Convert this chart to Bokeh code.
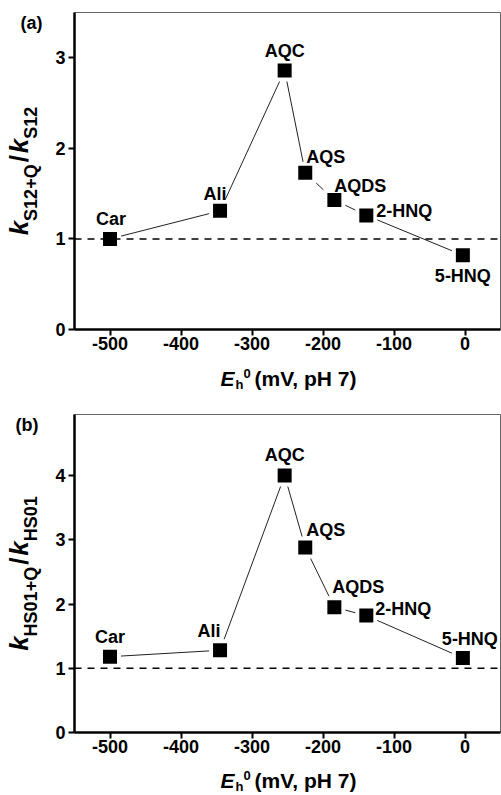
import math
from bokeh.plotting import figure
from bokeh.models import Range1d, FixedTicker, Span, ColumnDataSource, Spacer
from bokeh.layouts import column, row
from bokeh.embed import file_html
from bokeh.resources import INLINE
from bokeh.core.properties import value

# ---------------- data ----------------
names = ["Car", "Ali", "AQC", "AQS", "AQDS", "2-HNQ", "5-HNQ"]
eh0 = [-500, -345, -254, -225, -184, -139, -3]          # mV, pH 7
ratio_s12 = [1.00, 1.31, 2.86, 1.73, 1.43, 1.26, 0.82]   # k(S12+Q)/k(S12)
ratio_hs01 = [1.18, 1.28, 4.00, 2.88, 1.95, 1.82, 1.16]  # k(HS01+Q)/k(HS01)
x_ticks = [-500, -400, -300, -200, -100, 0]
y_ticks_a = [0, 1, 2, 3]
y_ticks_b = [0, 1, 2, 3, 4]

# ---------------- label placement (styling, px; dy = baseline above point) ----
align_a = ["center", "center", "center", "left", "left", "left", "center"]
dx_a = [1, -5, 0, 1, 0, 10, 0]
dy_a = [14, 11, 13, 10, 8, -2, -27]
align_b = ["center", "center", "center", "left", "left", "left", "center"]
dx_b = [0, -11, 0, 1, -2, 9, 7]
dy_b = [13, 13, 14, 11, 14, 0, 13]

FONT = "Liberation Sans"
MID = 0.35   # em-box middle above the alphabetic baseline
W = {"k": .556, "S": .667, "1": .556, "2": .556, "+": .584, "Q": .778, "/": .278,
     "H": .722, "0": .556, "h": .611, "E": .667, " ": .278, "(": .333, ")": .333,
     "m": .889, "V": .667, ",": .278, "p": .611, "7": .556}

TOTAL_W = 501
LEFT_W = 52        # strip holding the rotated y label
AXIS_L = 22        # left border of the main figures (y tick labels)
AXIS_B = 32        # bottom border of the main figures (x tick labels)
FRAME_W = TOTAL_W - LEFT_W - AXIS_L - 1


def tw(s, size):
    return sum(W.get(c, .6) for c in s) * size


def strip(w, h, xr, yr, bl=0, br=0, bt=0, bb=0):
    s = figure(width=w, height=h, x_range=Range1d(0, xr), y_range=Range1d(0, yr),
               output_backend="svg", toolbar_location=None, title=None,
               x_axis_location=None, y_axis_location=None,
               min_border=0, min_border_left=bl, min_border_right=br,
               min_border_top=bt, min_border_bottom=bb)
    s.grid.visible = False
    s.outline_line_color = None
    s.background_fill_color = "white"
    s.border_fill_color = "white"
    return s


def put(s, x, y, t, size, style, align="left"):
    """horizontal text; (x, y) = start / alphabetic baseline in frame pixels"""
    s.text([x], [y + MID * size], text=[t], text_align=align,
           text_baseline="middle", text_font=value(FONT),
           text_font_style=style, text_font_size=f"{size}px",
           text_color="black")


def put_vertical(s, xbase, ystart, t, size, style):
    """text rotated 90 deg; baseline at x = xbase, starting at y = ystart"""
    w = tw(t, size)
    s.text([xbase - MID * size], [ystart + w / 2], text=[t], angle=math.pi / 2,
           text_align="center", text_baseline="middle", text_font=value(FONT),
           text_font_style=style, text_font_size=f"{size}px",
           text_color="black")


def make_panel(yvals, yticks, ymax, frame_h, top_border, xl_h, xl_base,
               tag, tag_x, tag_drop, sub_num, sub_den, align, dx, dy):
    height = top_border + frame_h + AXIS_B
    p = figure(width=TOTAL_W - LEFT_W, height=height, x_range=Range1d(-550, 50),
               y_range=Range1d(0, ymax), output_backend="svg", title=None,
               toolbar_location=None, min_border_left=AXIS_L, min_border_right=1,
               min_border_top=top_border, min_border_bottom=AXIS_B)
    p.xgrid.visible = False
    p.ygrid.visible = False
    p.outline_line_color = "#666666"
    p.outline_line_width = 1
    p.background_fill_color = "white"
    p.border_fill_color = "white"

    for ax in (p.xaxis[0], p.yaxis[0]):
        ax.axis_line_width = 2.5
        ax.axis_line_color = "black"
        ax.major_tick_line_width = 2
        ax.major_tick_line_color = "black"
        ax.major_tick_in = 0
        ax.major_tick_out = 6
        ax.minor_tick_line_color = None
        ax.major_label_text_font = FONT
        ax.major_label_text_font_style = "bold"
        ax.major_label_text_font_size = "18px"
        ax.major_label_text_color = "black"
    p.xaxis[0].ticker = FixedTicker(ticks=x_ticks)
    p.xaxis[0].major_label_overrides = {t: str(t) for t in x_ticks}
    p.yaxis[0].ticker = FixedTicker(ticks=yticks)
    p.xaxis[0].major_label_standoff = 1
    p.yaxis[0].major_label_standoff = 3

    p.add_layout(Span(location=1, dimension="width", line_color="black",
                      line_width=1.5, line_dash="7 6"))

    src = ColumnDataSource(dict(x=eh0, y=yvals, name=names, align=align,
                                dx=dx, dy=[-(v + MID * 18) for v in dy]))
    p.line("x", "y", source=src, line_color="#222222", line_width=1)
    p.scatter("x", "y", source=src, marker="square", size=22,
              fill_color="white", line_color=None)
    p.scatter("x", "y", source=src, marker="square", size=14,
              fill_color="black", line_color=None)
    p.text("x", "y", text="name", source=src, text_align="align",
           text_baseline="middle", x_offset="dx", y_offset="dy",
           text_font=value(FONT), text_font_style="bold",
           text_font_size="18px", text_color="black")

    # ---- left strip (frame aligned with the plot frame) ----
    left = strip(LEFT_W, height, LEFT_W, frame_h, bt=top_border, bb=AXIS_B)
    put(left, tag_x, frame_h - tag_drop, tag, 18, "bold")
    big, small = 26, 18
    pieces = [("k", big, "bold italic", 0, 0), (sub_num, small, "bold", 1, 2),
              ("/", big, "bold", 0, 2), ("k", big, "bold italic", 0, 0),
              (sub_den, small, "bold", 1, 0)]
    total = sum(tw(t, s) + g for t, s, _, _, g in pieces)
    pos = frame_h / 2 - total / 2
    for t, s, st, sub, gap in pieces:
        put_vertical(left, 37 if sub else 28, pos, t, s, st)
        pos += tw(t, s) + gap

    # ---- bottom strip (frame aligned with the plot frame horizontally) ----
    xl = strip(TOTAL_W - LEFT_W, xl_h, FRAME_W, xl_h, bl=AXIS_L, br=1)
    x0 = FRAME_W / 2 - 67
    base = xl_h - xl_base
    put(xl, x0, base, "E", 21, "bold italic")
    put(xl, x0 + 15, base - 4, "h", 13, "bold")
    put(xl, x0 + 23, base + 7, "0", 13, "bold")
    put(xl, x0 + 34, base, "(mV, pH 7)", 21, "bold")

    return column(row(left, p, spacing=0),
                  row(Spacer(width=LEFT_W, height=xl_h), xl, spacing=0),
                  spacing=0)


panel_a = make_panel(ratio_s12, y_ticks_a, 3.5, 317, 12, 32, 24,
                     "(a)", 20, 17, "S12+Q", "S12", align_a, dx_a, dy_a)
panel_b = make_panel(ratio_hs01, y_ticks_b, 4.95, 318, 21, 30, 23,
                     "(b)", 15, 17, "HS01+Q", "HS01", align_b, dx_b, dy_b)

layout = column(panel_a, panel_b, spacing=0)
open("out.html", "w").write(file_html(layout, INLINE))
